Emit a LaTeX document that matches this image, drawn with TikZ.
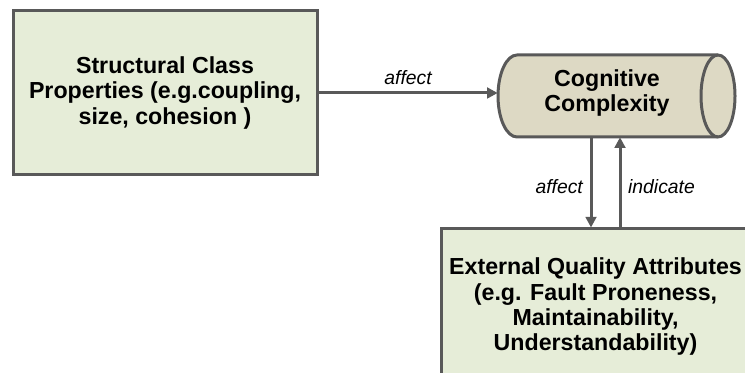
\documentclass[tikz,border=0pt]{standalone}
\usepackage{fontspec}
\setmainfont{Liberation Sans}
\usetikzlibrary{arrows.meta,calc}
\definecolor{boxfill}{HTML}{E6EDD8}
\definecolor{cylfill}{HTML}{DDD9C4}
\definecolor{edgec}{HTML}{595959}
\begin{document}
\begin{tikzpicture}[x=0.75pt,y=-0.75pt,
  box/.style={draw=edgec, line width=2.25pt, fill=boxfill, align=center,
    font=\bfseries\fontsize{17.4}{19}\selectfont, inner sep=0},
  ttext/.style={align=center, font=\bfseries\fontsize{17.4}{19}\selectfont, inner sep=0},
  conn/.style={draw=edgec, line width=2.25pt, -{Triangle[length=8pt,width=8pt]}},
  lbl/.style={font=\itshape\fontsize{14.5}{17}\selectfont, inner sep=0}]
\useasboundingbox (0,0) rectangle (745,373);
\clip (0,0) rectangle (745,373);
% left box
\node[box, minimum width=228pt, minimum height=123pt] (sc) at (165,93)
  {Structural Class\\Properties (e.g.coupling,\\size, cohesion )};
% bottom box
\node[box, minimum width=231.75pt, minimum height=117pt] (eq) at (595.5,307)
  {External Quality Attributes\\(e.g. Fault Proneness,\\Maintainability,\\Understandability)};
% cylinder
\path[draw=edgec, fill=cylfill, line width=2.25pt]
  (517,55) -- (718,55) arc[start angle=-90, end angle=90, x radius=17, y radius=41]
  -- (517,137) arc[start angle=90, end angle=270, x radius=19, y radius=41] -- cycle;
\draw[edgec, line width=2.25pt] (718,55) arc[start angle=-90, end angle=-270, x radius=17, y radius=41];
\node[minimum width=177.75pt, minimum height=61.5pt, inner sep=0] (cc) at (616.5,96) {};
\node[ttext] (cct) at (607,93) {Cognitive\\Complexity};
% connectors
\coordinate (dn) at (591,0);
\coordinate (up) at (620,0);
\draw[conn] (sc.east) -- (sc.east -| cc.west) node[lbl, midway, above=5pt] {affect};
\draw[conn] (cc.south -| dn) -- (eq.north -| dn) node[lbl, pos=0.55, left=5pt] {affect};
\draw[conn] (eq.north -| up) -- (cc.south -| up) node[lbl, pos=0.45, right=5pt] {indicate};
\end{tikzpicture}
\end{document}
